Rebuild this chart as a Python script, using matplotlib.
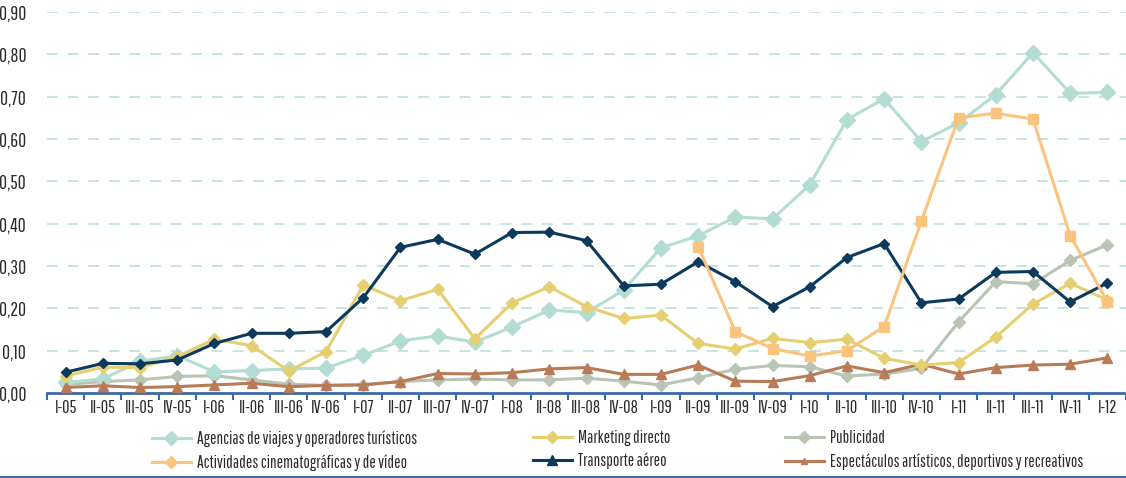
import matplotlib
matplotlib.use("Agg")
import matplotlib.pyplot as plt
from matplotlib.lines import Line2D
import numpy as np

plt.rcParams['font.family'] = ['Pathway Gothic One', 'DejaVu Sans']

periods = ["I-05", "II-05", "III-05", "IV-05", "I-06", "II-06", "III-06", "IV-06",
           "I-07", "II-07", "III-07", "IV-07", "I-08", "II-08", "III-08", "IV-08",
           "I-09", "II-09", "III-09", "IV-09", "I-10", "II-10", "III-10", "IV-10",
           "I-11", "II-11", "III-11", "IV-11", "I-12"]

agencias = [0.025, 0.033, 0.075, 0.088, 0.050, 0.053, 0.057, 0.059,
            0.089, 0.123, 0.135, 0.120, 0.156, 0.196, 0.190, 0.243,
            0.343, 0.371, 0.416, 0.411, 0.492, 0.646, 0.695, 0.594,
            0.638, 0.705, 0.804, 0.708, 0.710]

marketing = [0.040, 0.061, 0.060, 0.086, 0.127, 0.112, 0.052, 0.098,
             0.255, 0.218, 0.245, 0.128, 0.213, 0.251, 0.204, 0.176,
             0.184, 0.117, 0.104, 0.129, 0.119, 0.127, 0.082, 0.066,
             0.072, 0.132, 0.210, 0.259, 0.220]

publicidad = [0.020, 0.027, 0.031, 0.039, 0.041, 0.031, 0.021, 0.018,
              0.020, 0.027, 0.031, 0.033, 0.031, 0.031, 0.035, 0.028,
              0.019, 0.036, 0.056, 0.065, 0.062, 0.040, 0.045, 0.058,
              0.168, 0.263, 0.258, 0.313, 0.350]

actividades = [np.nan] * 17 + [0.346, 0.145, 0.105, 0.087, 0.100, 0.157, 0.406,
                               0.650, 0.661, 0.647, 0.372, 0.216]

transporte = [0.049, 0.070, 0.069, 0.078, 0.117, 0.141, 0.141, 0.145,
              0.225, 0.344, 0.363, 0.328, 0.379, 0.380, 0.360, 0.253,
              0.257, 0.310, 0.263, 0.204, 0.251, 0.320, 0.353, 0.213,
              0.222, 0.285, 0.287, 0.215, 0.260]

espectaculos = [0.013, 0.017, 0.013, 0.015, 0.019, 0.023, 0.015, 0.018,
                0.019, 0.027, 0.046, 0.045, 0.048, 0.057, 0.060, 0.044,
                0.044, 0.066, 0.028, 0.027, 0.041, 0.064, 0.048, 0.068,
                0.045, 0.060, 0.066, 0.068, 0.083]

names = ["Agencias de viajes y operadores turísticos",
         "Marketing directo",
         "Publicidad",
         "Actividades cinematográficas y de vídeo",
         "Transporte aéreo",
         "Espectáculos artísticos, deportivos y recreativos"]

c_ag = "#b3dcd3"
c_mk = "#e6cf70"
c_pu = "#b8c5b4"
c_ac = "#fbc47e"
c_tr = "#0c3a5c"
c_es = "#b97b57"
c_axis = "#3d69a6"
c_grid = "#b5ded5"
c_text = "#2b2b2b"

fig = plt.figure(figsize=(11.26, 4.78), dpi=100)
ax = fig.add_axes([47 / 1126, 85 / 478, 1 - 47 / 1126, (393 - 12) / 478])

x = np.arange(len(periods))

ax.plot(x, publicidad, color=c_pu, lw=2.2, marker="D", ms=6, zorder=3)
ax.plot(x, espectaculos, color=c_es, lw=2.2, marker="^", ms=7.5, zorder=4)
ax.plot(x, agencias, color=c_ag, lw=2.2, marker="D", ms=8, zorder=3)
ax.plot(x, marketing, color=c_mk, lw=2.2, marker="D", ms=6.5, zorder=4)
ax.plot(x, transporte, color=c_tr, lw=2.2, marker="D", ms=5.5, zorder=5)
ax.plot(x, actividades, color=c_ac, lw=2.2, marker="s", ms=7, zorder=6)

ax.set_xlim(-0.5, len(periods) - 0.5)
ax.set_ylim(0, 0.9)
yt = np.round(np.arange(0, 0.91, 0.1), 2)
ax.set_yticks(yt)
ax.set_yticklabels([f"{v:.2f}".replace(".", ",") for v in yt], fontsize=14, color=c_text)
for v in yt[1:]:
    ax.axhline(v, color=c_grid, lw=1.1, dashes=(7, 6.5), zorder=1)

ax.set_xticks(x)
ax.set_xticklabels(periods, fontsize=13, color=c_text)
ax.set_xticks(np.arange(-0.5, len(periods) + 0.5, 1), minor=True)
ax.tick_params(axis="x", which="major", length=0, pad=5)
ax.tick_params(axis="x", which="minor", length=5, width=1.5, color=c_axis, direction="out")
ax.tick_params(axis="y", length=0, pad=15)

for s in ["top", "right", "left"]:
    ax.spines[s].set_visible(False)
ax.spines["bottom"].set_color(c_axis)
ax.spines["bottom"].set_linewidth(2)

# legend
h_ag = Line2D([], [], color=c_ag, lw=2.2, marker="D", ms=7)
h_mk = Line2D([], [], color=c_mk, lw=2.2, marker="D", ms=6)
h_pu = Line2D([], [], color=c_pu, lw=2.2, marker="D", ms=6)
h_ac = Line2D([], [], color=c_ac, lw=2.2, marker="D", ms=6)
h_tr = Line2D([], [], color=c_tr, lw=2.2, marker="^", ms=7)
h_es = Line2D([], [], color=c_es, lw=2.2, marker="^", ms=5)

cols = [([h_ag, h_ac], [names[0], names[3]], 152),
        ([h_mk, h_tr], [names[1], names[4]], 533),
        ([h_pu, h_es], [names[2], names[5]], 785)]
for hs, ls, px in cols:
    fig.legend(hs, ls, loc="upper left", bbox_to_anchor=(px / 1126, 1 - 430 / 478),
               frameon=False, fontsize=12.2, handlelength=2.3, handletextpad=0.35,
               labelspacing=0.4, borderaxespad=0, borderpad=0, labelcolor=c_text)

fig.add_artist(Line2D([0, 1], [1 - 477 / 478, 1 - 477 / 478], color=c_axis, lw=1.5,
                      transform=fig.transFigure))

fig.savefig("out.png", dpi=100)
